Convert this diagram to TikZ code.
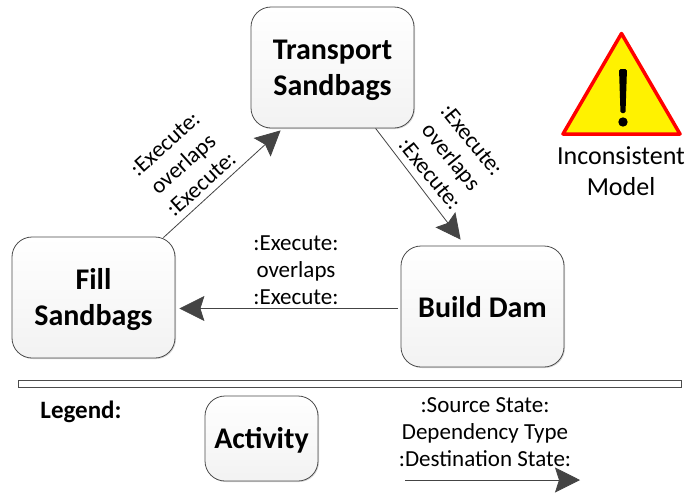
\documentclass[tikz,border=0pt]{standalone}
\usepackage{fontspec}
\setmainfont{Carlito}
\usetikzlibrary{arrows.meta,shadows,calc}
\definecolor{edgegray}{HTML}{444444}
\newcommand{\lowered}[2]{\raisebox{-#1pt}[\height][\depth]{#2}}
\tikzset{x=1pt,y=-1pt,
 actbox/.style={draw=black!70,line width=0.8pt,rounded corners=20pt,minimum width=163pt,minimum height=121pt,
   top color=white,bottom color=black!5,align=center,inner sep=0pt,
   drop shadow={shadow xshift=1pt,shadow yshift=-1pt,opacity=0.25,fill=black!60},
   font=\fontsize{30}{36}\selectfont\bfseries},
 dep/.style={draw=edgegray,line width=0.8pt,-{Stealth[length=25pt,width=25pt,inset=4pt]}},
 lab/.style={align=center,inner sep=0pt,font=\fontsize{23}{27}\selectfont},
}
\begin{document}
\begin{tikzpicture}
\useasboundingbox (0,0) rectangle (686,493);
\fill[white] (0,0) rectangle (686,493);
\node[actbox] (transport) at (332.5,67.5) {\lowered{3}{Transport}\\\lowered{3}{Sandbags}};
\node[actbox] (fill) at (93.5,297.5) {\lowered{2.5}{Fill}\\\lowered{2.5}{Sandbags}};
\node[actbox] (build) at (482.5,306.5) {\lowered{1}{Build Dam}};
\node[actbox,minimum width=113pt,minimum height=85pt] (activity) at (261.5,438.5) {\lowered{2}{Activity}};
\node[draw=black!70,line width=0.8pt,fill=white,minimum width=663pt,minimum height=7pt,inner sep=0pt,
   drop shadow={shadow xshift=1pt,shadow yshift=-1pt,opacity=0.25,fill=black!60}] (bar) at (349.5,383.5) {};
\draw[dep] ($(fill.north east)+(-12,1)$) -- ($(transport.south west)+(30,2)$);
\draw[dep] ($(transport.south west)+(125,0)$) -- ($(build.north west)+(60,-6)$);
\draw[dep] ($(build.west)+(-3,2)$) -- ($(fill.east)+(4,11)$);
\coordinate (lstart) at (405,480);
\coordinate (lend) at (580,480);
\draw[dep] (lstart) -- (lend);
\node[lab,rotate=42] (l1) at (183,164) {:Execute:\\overlaps\\:Execute:};
\node[lab,rotate=-51] (l2) at (451,157) {:Execute:\\overlaps\\:Execute:};
\node[lab] (l3) at (296,270) {:Execute:\\overlaps\\:Execute:};
\node[lab] (l4) at (485,432) {:Source State:\\Dependency Type\\:Destination State:};
\node[inner sep=0pt,font=\fontsize{25}{30}\selectfont\bfseries] (legend) at (81,411.5) {Legend:};
\draw[draw=red,fill=yellow,line width=3.5pt,line join=round] (621.5,33.5) -- (680,134) -- (563,134) -- cycle;
\fill[black,rounded corners=1.5pt] (619,69) -- (627,69) -- (625.5,113) -- (620.5,113) -- cycle;
\fill[black] (623,122) circle (4.7);
\node[lab,font=\fontsize{26}{31}\selectfont] (warn) at (621,171.5) {Inconsistent\\Model};
\end{tikzpicture}
\end{document}
